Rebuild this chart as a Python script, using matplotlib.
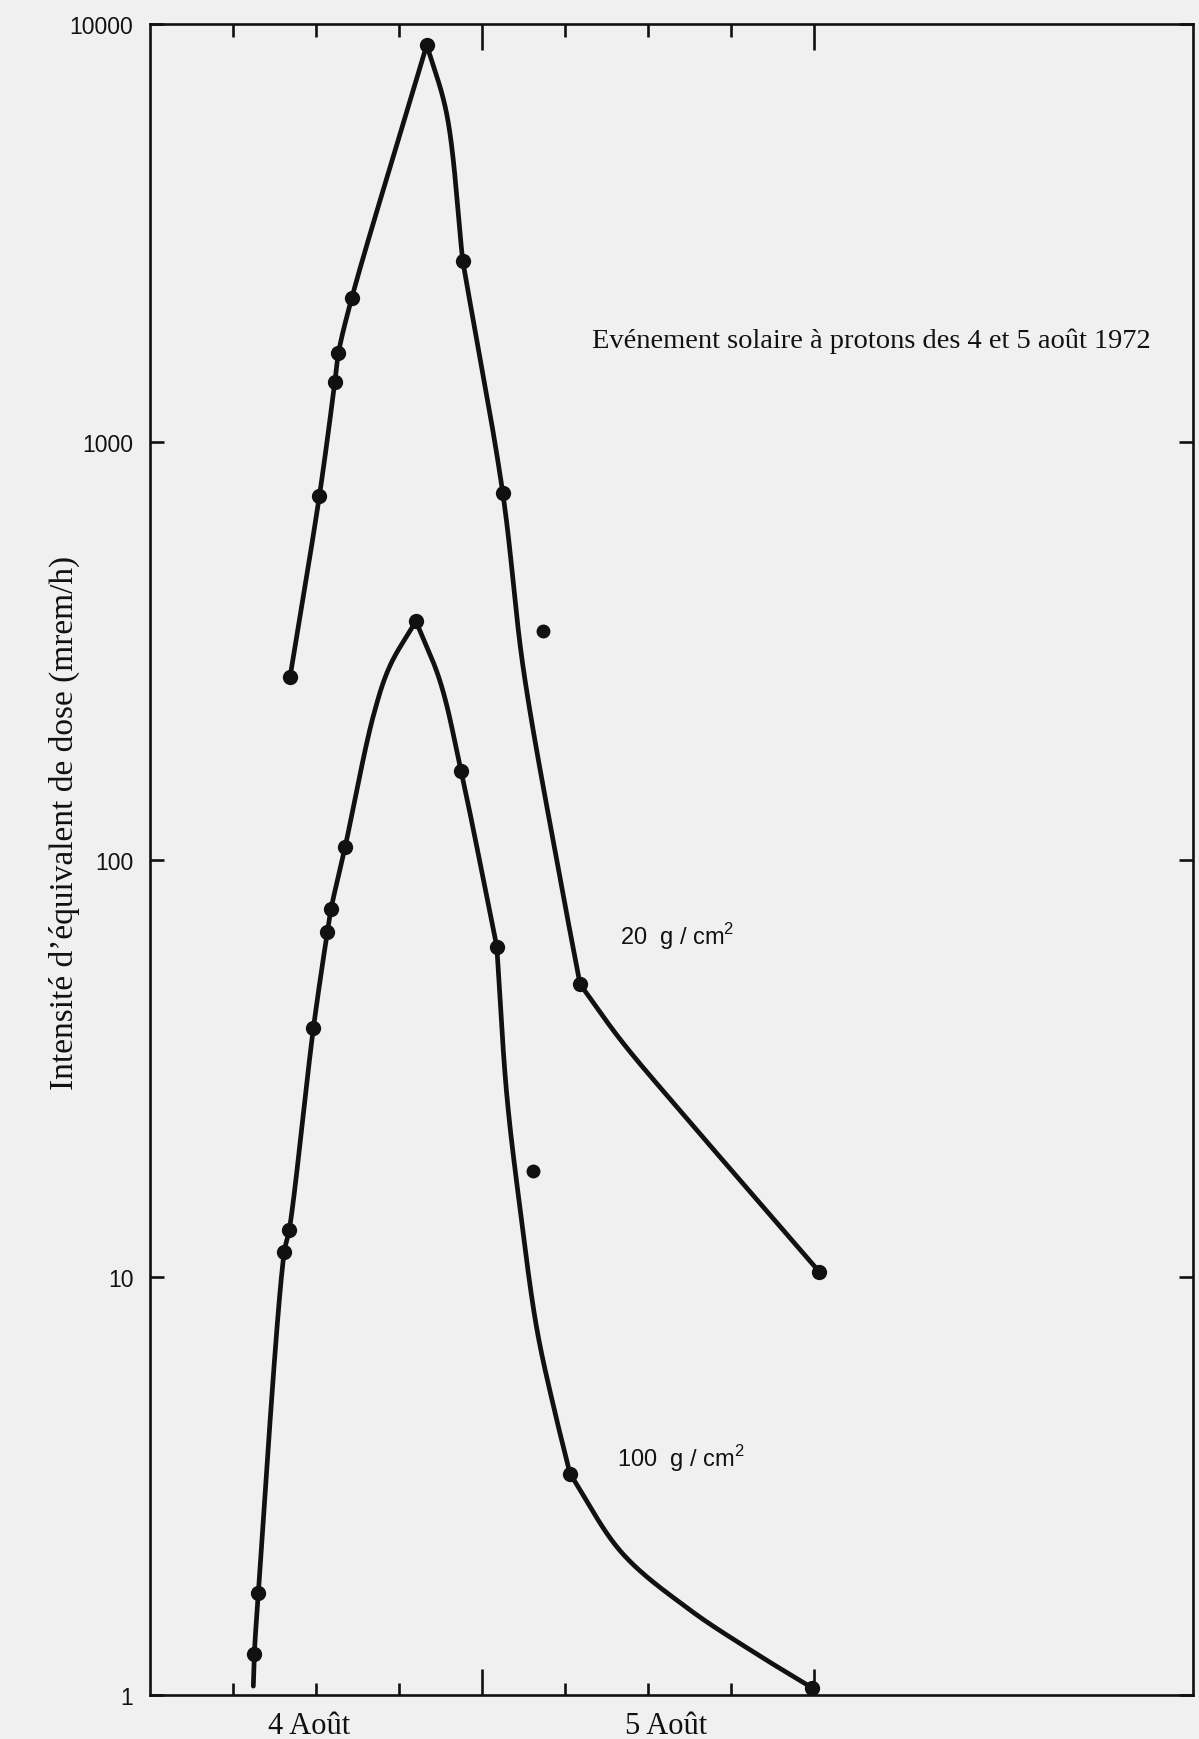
import numpy as np
import matplotlib
matplotlib.use("Agg")
import matplotlib.pyplot as plt
from matplotlib.ticker import NullLocator

plt.rcParams["mathtext.fontset"] = "custom"
plt.rcParams["mathtext.rm"] = "Liberation Sans"

# 20 g/cm2 shielding: measured points (hours, mrem/h)
hours_20 = [10.12, 12.24, 13.36, 13.62, 14.58, 20.01, 22.61, 25.50, 31.09, 48.39]
dose_20 = [273, 740, 1388, 1628, 2205, 8920, 2709, 755, 50.3, 10.3]
stray_hours_20 = [28.42]
stray_dose_20 = [352]

# hand-drawn curve through the 20 g/cm2 points; corners = vertices where the pen turns sharply
curve_hours_20 = [10.12, 12.24, 13.36, 13.62, 14.58, 20.01, 21.45, 22.61,
                  25.50, 26.99, 29.41, 31.09, 34.13, 38.90, 43.75, 48.39]
curve_dose_20 = [273, 740, 1388, 1628, 2205, 8920, 6090, 2709,
                 755, 286, 99.3, 50.3, 36.6, 23.8, 15.5, 10.3]
corners_20 = [5, 7, 11]

# 100 g/cm2 shielding
hours_100 = [7.54, 7.83, 9.71, 10.07, 11.81, 12.82, 13.09, 14.10, 19.23, 22.49, 25.07, 30.37, 47.87]
dose_100 = [1.25, 1.75, 11.5, 13.0, 39.4, 67, 76.2, 107, 372, 163, 61.9, 3.38, 1.04]
stray_hours_100 = [27.68]
stray_dose_100 = [18.0]

curve_hours_100 = [7.47, 7.54, 7.83, 9.71, 10.07, 11.81, 12.82, 13.09, 14.10, 16.15, 17.35,
                   19.23, 20.97, 22.49, 25.07, 25.79, 26.75, 27.96, 29.17, 30.37,
                   34.11, 38.90, 43.75, 47.87]
curve_dose_100 = [1.05, 1.25, 1.75, 11.5, 13.0, 39.4, 67, 76.2, 107, 221, 291,
                  372, 267, 163, 61.9, 27.4, 14.6, 7.54, 4.91, 3.38,
                  2.19, 1.61, 1.26, 1.04]
corners_100 = [11, 14, 19]

y_ticks = [1, 10, 100, 1000, 10000]
y_tick_labels = ["1", "10", "100", "1000", "10000"]
short_ticks = [6, 12, 18, 30, 36, 42]
long_ticks = [24, 48]
day_labels = ["4 Août", "5 Août"]
day_hours = [11.5, 37.3]

INK = "#111111"
PAPER = "#f0f0f0"


def catmull_rom(pts, n=40, alpha=0.5):
    # centripetal Catmull-Rom through display-space points
    pts = np.asarray(pts, dtype=float)
    if len(pts) == 2:
        return pts
    P = np.vstack([2 * pts[0] - pts[1], pts, 2 * pts[-1] - pts[-2]])
    out = [pts[:1]]
    for i in range(1, len(P) - 2):
        p0, p1, p2, p3 = P[i - 1:i + 3]
        t0 = 0.0
        t1 = t0 + max(np.linalg.norm(p1 - p0), 1e-6) ** alpha
        t2 = t1 + max(np.linalg.norm(p2 - p1), 1e-6) ** alpha
        t3 = t2 + max(np.linalg.norm(p3 - p2), 1e-6) ** alpha
        t = np.linspace(t1, t2, n)[1:, None]
        a1 = (t1 - t) / (t1 - t0) * p0 + (t - t0) / (t1 - t0) * p1
        a2 = (t2 - t) / (t2 - t1) * p1 + (t - t1) / (t2 - t1) * p2
        a3 = (t3 - t) / (t3 - t2) * p2 + (t - t2) / (t3 - t2) * p3
        b1 = (t2 - t) / (t2 - t0) * a1 + (t - t0) / (t2 - t0) * a2
        b2 = (t3 - t) / (t3 - t1) * a2 + (t - t1) / (t3 - t1) * a3
        out.append((t2 - t) / (t2 - t1) * b1 + (t - t1) / (t2 - t1) * b2)
    return np.vstack(out)


def smooth_line(ax, hours, dose, corners, **kw):
    disp = ax.transData.transform(np.column_stack([hours, dose]))
    cuts = [0] + list(corners) + [len(hours) - 1]
    pieces = [catmull_rom(disp[a:b + 1]) for a, b in zip(cuts[:-1], cuts[1:])]
    curve = ax.transData.inverted().transform(np.vstack(pieces))
    ax.plot(curve[:, 0], curve[:, 1], **kw)


fig = plt.figure(figsize=(11.99, 17.40), dpi=100, facecolor=PAPER)
ax = fig.add_axes([0.1251, 0.0253, 0.8699, 0.9603], facecolor=PAPER)
ax.set_yscale("log")
ax.set_xlim(0, 75.4)
ax.set_ylim(1, 10000)

line_kw = dict(color=INK, lw=3.4, solid_capstyle="round", solid_joinstyle="round")
smooth_line(ax, curve_hours_20, curve_dose_20, corners_20, **line_kw)
smooth_line(ax, curve_hours_100, curve_dose_100, corners_100, **line_kw)

dot_kw = dict(ls="none", marker="o", color=INK, ms=10, zorder=3)
ax.plot(hours_20, dose_20, **dot_kw)
ax.plot(hours_100, dose_100, **dot_kw)
ax.plot(stray_hours_20, stray_dose_20, ls="none", marker="o", color=INK, ms=9)
ax.plot(stray_hours_100, stray_dose_100, ls="none", marker="o", color=INK, ms=9)

for side in ax.spines.values():
    side.set_linewidth(1.9)
    side.set_color(INK)

ax.yaxis.set_minor_locator(NullLocator())
ax.set_yticks(y_ticks)
ax.set_yticklabels(y_tick_labels, fontfamily="Liberation Sans", fontsize=16.5, color=INK)
ax.tick_params(axis="y", which="major", direction="in", length=10, width=1.9,
               left=True, right=True, pad=12, color=INK)

ax.set_xticks(short_ticks)
ax.set_xticks(long_ticks, minor=True)
ax.tick_params(axis="x", which="major", direction="in", length=9, width=1.9,
               top=True, bottom=True, labelbottom=False, color=INK)
ax.tick_params(axis="x", which="minor", direction="in", length=19, width=1.9,
               top=True, bottom=True, labelbottom=False, color=INK)

for label, h in zip(day_labels, day_hours):
    ax.text(h, -0.018, label, transform=ax.get_xaxis_transform(), ha="center", va="center",
            fontfamily="Liberation Serif", fontsize=22, color=INK)

ax.text(33.98, 65.6, r"20  g / cm$^\mathregular{2}$", ha="left", va="center",
        fontfamily="Liberation Sans", fontsize=17, color=INK)
ax.text(33.77, 3.71, r"100  g / cm$^\mathregular{2}$", ha="left", va="center",
        fontfamily="Liberation Sans", fontsize=17, color=INK)

fig.text(0.7268, 0.804, "Evénement solaire à protons des 4 et 5 août 1972",
         ha="center", va="center", fontfamily="Liberation Serif", fontsize=20.5, color=INK)
fig.text(0.0534, 0.527, "Intensité d\u2019équivalent de dose (mrem/h)", rotation=90,
         ha="center", va="center", fontfamily="Liberation Serif", fontsize=24, color=INK)

fig.savefig("out.png", dpi=100, facecolor=PAPER)
